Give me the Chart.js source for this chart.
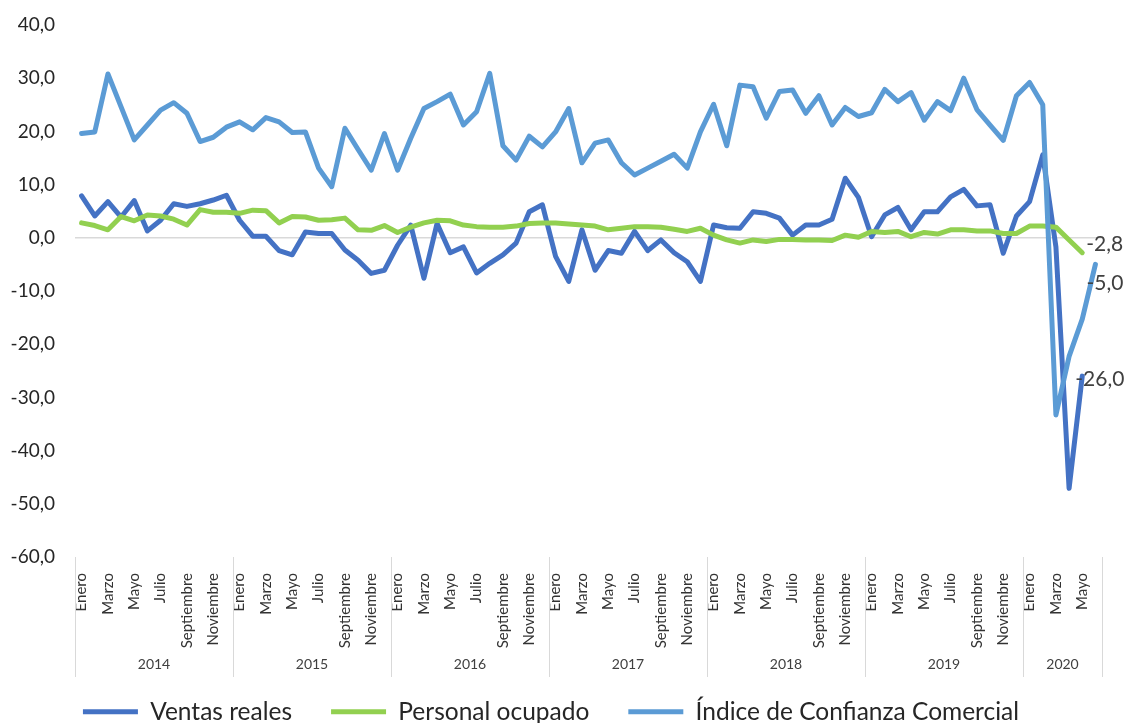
<!DOCTYPE html>
<html>
<head>
<meta charset="utf-8">
<script src="https://cdn.jsdelivr.net/npm/chart.js@4.4.0/dist/chart.umd.min.js"></script>
<style>
  body { margin: 0; background: #fff; }
</style>
</head>
<body>
<canvas id="chart" width="1128" height="723"></canvas>
<script>
// categorias
var years = ['2014', '2015', '2016', '2017', '2018', '2019', '2020'];
var monthsPerYear = [12, 12, 12, 12, 12, 12, 6];
var months = ['Enero', 'Febrero', 'Marzo', 'Abril', 'Mayo', 'Junio',
              'Julio', 'Agosto', 'Septiembre', 'Octubre', 'Noviembre', 'Diciembre'];
var yTicks = [40, 30, 20, 10, 0, -10, -20, -30, -40, -50, -60];

// series (variacion %)
var ventasReales = [
  7.9, 4.1, 6.8, 3.9, 7.0, 1.3, 3.3, 6.4, 5.9, 6.4, 7.1, 8.0,
  3.3, 0.3, 0.3, -2.4, -3.2, 1.1, 0.8, 0.8, -2.3, -4.2, -6.7, -6.1,
  -1.4, 2.4, -7.6, 2.7, -2.8, -1.7, -6.6, -4.8, -3.2, -1.0, 4.9, 6.2,
  -3.5, -8.2, 1.5, -6.1, -2.4, -2.9, 1.2, -2.4, -0.4, -2.8, -4.5, -8.2,
  2.4, 1.9, 1.8, 4.9, 4.6, 3.7, 0.5, 2.4, 2.4, 3.5, 11.2, 7.6,
  0.2, 4.3, 5.7, 1.5, 4.9, 4.9, 7.7, 9.1, 6.0, 6.2, -2.9, 4.1,
  6.8, 15.6, -1.7, -47.1, -26.0, null
];
var personalOcupado = [
  2.8, 2.3, 1.5, 4.0, 3.2, 4.3, 4.1, 3.5, 2.4, 5.3, 4.8, 4.8,
  4.6, 5.2, 5.1, 2.8, 4.0, 3.9, 3.3, 3.4, 3.7, 1.5, 1.4, 2.3,
  1.0, 2.0, 2.8, 3.3, 3.2, 2.4, 2.1, 2.0, 2.0, 2.2, 2.7, 2.8,
  2.8, 2.6, 2.4, 2.2, 1.5, 1.8, 2.1, 2.1, 2.0, 1.6, 1.2, 1.8,
  0.5, -0.4, -1.0, -0.4, -0.7, -0.3, -0.3, -0.4, -0.4, -0.5, 0.5, 0.1,
  1.2, 1.0, 1.2, 0.2, 1.0, 0.7, 1.5, 1.5, 1.3, 1.3, 0.8, 0.8,
  2.2, 2.2, 2.0, -0.4, -2.8, null
];
var confianzaComercial = [
  19.6, 19.9, 30.8, 24.6, 18.4, 21.2, 24.0, 25.4, 23.4, 18.1, 18.9, 20.8,
  21.8, 20.3, 22.6, 21.8, 19.8, 19.9, 13.1, 9.6, 20.6, 16.6, 12.7, 19.6,
  12.7, 18.7, 24.3, 25.6, 27.0, 21.2, 23.7, 30.9, 17.3, 14.6, 19.1, 17.1,
  19.9, 24.3, 14.1, 17.8, 18.4, 14.1, 11.8, 13.1, 14.4, 15.7, 13.1, 19.9,
  25.1, 17.3, 28.7, 28.4, 22.5, 27.5, 27.8, 23.4, 26.7, 21.2, 24.5, 22.8,
  23.5, 27.9, 25.6, 27.3, 22.1, 25.6, 23.9, 30.0, 24.1, 21.2, 18.3, 26.7,
  29.2, 25.0, -33.3, -22.3, -15.3, -5.0
];

var labels = [];
years.forEach(function(y, i) {
    for (var m = 0; m < monthsPerYear[i]; m++) labels.push(months[m] + ' ' + y);
});

function fmt(v) {
    return v.toFixed(1).replace('.', ',');
}

// años debajo de los meses, con separadores
var yearAxis = {
    id: 'yearAxis',
    afterDraw: function(chart) {
        var ctx = chart.ctx, x = chart.scales.x, area = chart.chartArea;
        var step = x.getPixelForValue(1) - x.getPixelForValue(0);
        var idx = 0;
        var left = x.getPixelForValue(0) - step / 2;
        ctx.save();
        ctx.strokeStyle = '#d9d9d9';
        ctx.lineWidth = 1;
        ctx.fillStyle = '#404040';
        ctx.font = '14px Lato';
        ctx.textAlign = 'center';
        ctx.textBaseline = 'middle';
        function sep(px) {
            ctx.beginPath();
            ctx.moveTo(Math.round(px) + 0.5, area.bottom);
            ctx.lineTo(Math.round(px) + 0.5, area.bottom + 120);
            ctx.stroke();
        }
        sep(left);
        years.forEach(function(yr, i) {
            var n = monthsPerYear[i];
            var right = x.getPixelForValue(idx + n - 1) + step / 2;
            sep(right);
            ctx.fillText(yr, (left + right) / 2, area.bottom + 107);
            left = right;
            idx += n;
        });
        ctx.restore();
    }
};

// etiqueta del ultimo valor de cada serie
var endLabels = {
    id: 'endLabels',
    afterDatasetsDraw: function(chart) {
        var ctx = chart.ctx;
        ctx.save();
        ctx.font = '21px Lato';
        ctx.fillStyle = '#404040';
        ctx.textAlign = 'left';
        ctx.textBaseline = 'middle';
        chart.data.datasets.forEach(function(ds, i) {
            var last = ds.data.length - 1;
            while (ds.data[last] == null) last--;
            var pt = chart.getDatasetMeta(i).data[last];
            ctx.fillText(fmt(ds.data[last]), pt.x + ds.endOffset[0], pt.y + ds.endOffset[1]);
        });
        ctx.restore();
    }
};

Chart.defaults.font.family = 'Lato';
Chart.defaults.color = '#333';

var ctx = document.getElementById('chart');
var chart = new Chart(ctx, {
    type: 'line',
    data: {
        labels: labels,
        datasets: [{
            label: 'Ventas reales',
            data: ventasReales,
            borderColor: '#4472C4',
            backgroundColor: '#4472C4',
            borderWidth: 5,
            order: 2,
            endOffset: [-7, 3]
        }, {
            label: 'Personal ocupado',
            data: personalOcupado,
            borderColor: '#92D050',
            backgroundColor: '#92D050',
            borderWidth: 5,
            order: 1,
            endOffset: [4, -8]
        }, {
            label: 'Índice de Confianza Comercial',
            data: confianzaComercial,
            borderColor: '#5B9BD5',
            backgroundColor: '#5B9BD5',
            borderWidth: 5,
            order: 0,
            endOffset: [-9, 19]
        }]
    },
    options: {
        responsive: false,
        animation: false,
        devicePixelRatio: 1,
        elements: {
            point: { radius: 0 },
            line: { tension: 0, borderJoinStyle: 'round', borderCapStyle: 'round' }
        },
        layout: { padding: { top: 25, right: 26, bottom: -11, left: 0 } },
        plugins: {
            legend: {
                position: 'bottom',
                labels: {
                    usePointStyle: true,
                    pointStyle: 'line',
                    pointStyleWidth: 55,
                    padding: 39,
                    color: '#262626',
                    font: { size: 24.5 },
                    sort: function(a, b) { return a.datasetIndex - b.datasetIndex; }
                }
            },
            tooltip: { enabled: false }
        },
        scales: {
            x: {
                offset: true,
                grid: { display: false },
                border: { display: false },
                ticks: {
                    autoSkip: false,
                    minRotation: 90,
                    maxRotation: 90,
                    padding: 8,
                    color: '#333',
                    font: { size: 15 },
                    callback: function(value, index) {
                        return index % 2 === 0 ? this.getLabelForValue(value).split(' ')[0] : '';
                    }
                },
                afterFit: function(scale) { scale.height = 103.5; }
            },
            y: {
                min: yTicks[yTicks.length - 1],
                max: yTicks[0],
                border: { display: false },
                grid: {
                    drawTicks: false,
                    lineWidth: 1.5,
                    color: function(c) {
                        return c.tick && c.tick.value === 0 ? '#d9d9d9' : 'rgba(0,0,0,0)';
                    }
                },
                ticks: {
                    stepSize: 10,
                    padding: 20,
                    color: '#262626',
                    font: { size: 19 },
                    callback: function(value) { return fmt(value); }
                },
                afterFit: function(scale) {
                    scale.width = 75;
                    scale.paddingTop = 0;
                    scale.paddingBottom = 0;
                }
            }
        }
    },
    plugins: [yearAxis, endLabels]
});
</script>
</body>
</html>
